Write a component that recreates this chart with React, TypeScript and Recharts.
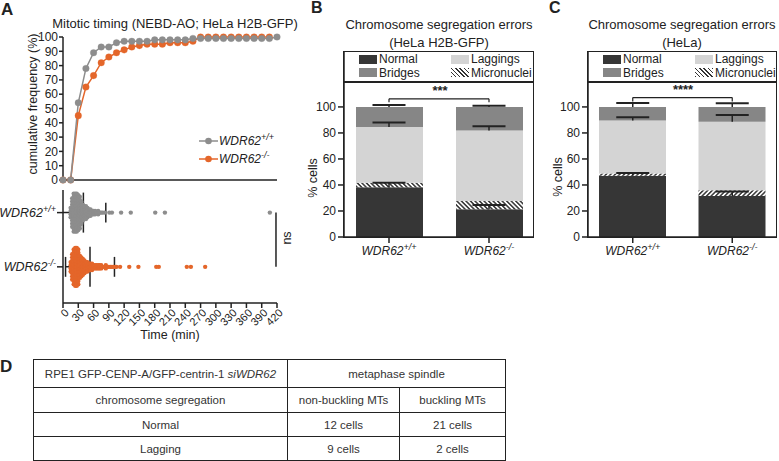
import React from "react";
import {
  LineChart,
  Line,
  XAxis,
  YAxis,
  ScatterChart,
  Scatter,
  ComposedChart,
  Bar,
  ReferenceLine,
} from "recharts";

const FONT = '"Liberation Sans", Arial, Helvetica, sans-serif';
const INK = "#222";
const GRAY = "#8d8d8d";
const ORANGE = "#e4662a";
const SEG = { normal: "#363636", bridges: "#868686", laggings: "#d4d4d4" };

const GENOTYPES = ["WDR62+/+", "WDR62-/-"];

// ---- A (top): cumulative frequency, NEBD-AO
const TIME_BINS = [0, 15, 30, 45, 60, 75, 90, 105, 120, 135, 150, 165, 180, 195, 210, 225, 240, 255, 270, 285, 300, 315, 330, 345, 360, 375, 390, 405, 420];
const WT_CUM = [0, 0, 54, 78, 89, 93, 93, 96, 97, 97, 97, 97, 98, 98, 98, 98, 98, 99, 99, 99, 99, 99, 99, 99, 99, 99, 99, 99, 100];
const KO_CUM = [0, 0, 45, 65, 73, 82, 86, 89, 91, 93, 94, 95, 95, 95, 96, 96, 96, 97, 100, 100, 100, 100, 100, 100, 100, 100, 100, 100, null];

// ---- A (bottom): individual cells, binned every ~3 min (count of dots per bin)
const WT_SWARM_T = [15, 18, 21, 24, 27, 30, 33, 36, 39, 42, 45, 48, 51, 54, 57, 60, 63, 66, 69, 72, 75, 78, 82, 91, 96, 114, 133, 181, 200, 406];
const WT_SWARM_N = [4, 10, 13, 13, 13, 12, 11, 8, 6, 5, 5, 4, 3, 3, 2, 2, 2, 1, 2, 1, 1, 1, 1, 1, 1, 1, 1, 1, 1, 1];
const KO_SWARM_T = [15, 18, 21, 24, 27, 30, 33, 36, 39, 42, 45, 48, 51, 54, 57, 60, 63, 66, 69, 72, 75, 78, 81, 84, 87, 90, 93, 96, 99, 102, 105, 112, 130, 148, 183, 188, 243, 251, 279];
const KO_SWARM_N = [4, 9, 12, 13, 13, 12, 8, 7, 6, 5, 4, 4, 3, 3, 3, 2, 2, 2, 2, 2, 2, 1, 1, 2, 1, 1, 1, 1, 1, 1, 1, 1, 1, 1, 1, 1, 1, 1, 1];
const SWARM_MEAN = [40, 53];
const SWARM_SD = [44, 48];
const TIME_TICKS = [0, 30, 60, 90, 120, 150, 180, 210, 240, 270, 300, 330, 360, 390, 420];

// ---- B: HeLa H2B-GFP (% cells)
const B_NORMAL = [38.2, 21.3];
const B_MICRO = [3.6, 6.4];
const B_LAG = [42.8, 54.1];
const B_BRIDGE = [15.4, 18.2];
const B_SD = { normal: [3.6, 3.3], lag: [3.4, 3.3], bridge: [1.5, 1.0] };

// ---- C: HeLa (% cells)
const C_NORMAL = [47, 31.5];
const C_MICRO = [1.8, 4.4];
const C_LAG = [40.7, 52.8];
const C_BRIDGE = [10.5, 11.3];
const C_SD = { normal: [2.3, 3.4], lag: [2.6, 5.1], bridge: [3, 2.8] };

// ---- D: table
const D_HEAD = ["RPE1 GFP-CENP-A/GFP-centrin-1 ", "siWDR62", "metaphase spindle"];
const D_COLS = ["chromosome segregation", "non-buckling MTs", "buckling MTs"];
const D_ROWS = [
  ["Normal", "12 cells", "21 cells"],
  ["Lagging", "9 cells", "2 cells"],
];

// layout constants (not data)
const ROW_WT = 80;
const ROW_KO = 32;
const DOT_STEP = 2.8;
const Y_MAX_BAR = 143;

const axisStyle = { stroke: INK, strokeWidth: 1.5 };

function swarm(times: number[], counts: number[], row: number) {
  const pts: { t: number; y: number }[] = [];
  times.forEach((t, i) => {
    const n = counts[i];
    for (let k = 0; k < n; k++) pts.push({ t, y: row + (k - (n - 1) / 2) * DOT_STEP });
  });
  return pts;
}

const TimeTick = (p: any) => (
  <text
    x={p.x + 3}
    y={p.y}
    dy={5}
    textAnchor="end"
    transform={`rotate(-45 ${p.x + 3} ${p.y})`}
    fontFamily={FONT}
    fontSize={11}
    fill={INK}
  >
    {p.payload.value}
  </text>
);

const GenoYTick = (p: any) => {
  const label = p.payload.value === ROW_WT ? GENOTYPES[0] : GENOTYPES[1];
  return (
    <text x={p.x} y={p.y} dy={4} textAnchor="end" fontFamily={FONT} fontSize={12.5} fontStyle="italic" fill={INK}>
      {label.slice(0, 5)}
      <tspan dy={-5} fontSize={9}>{label.slice(5)}</tspan>
    </text>
  );
};

const GenoXTick = (p: any) => {
  const label = String(p.payload.value);
  return (
    <text x={p.x} y={p.y} dy={10} textAnchor="middle" fontFamily={FONT} fontSize={12} fontStyle="italic" fill={INK}>
      {label.slice(0, 5)}
      <tspan dy={-5} fontSize={9}>{label.slice(5)}</tspan>
    </text>
  );
};

const ErrStem = (p: any) => {
  const top = Math.min(p.y1, p.y2);
  const bot = Math.max(p.y1, p.y2);
  return (
    <g>
      <line x1={p.x1} y1={top} x2={p.x1} y2={bot} stroke={INK} strokeWidth={1.5} />
      <line x1={p.x1 - 16.5} y1={top} x2={p.x1 + 16.5} y2={top} stroke={INK} strokeWidth={2} />
    </g>
  );
};

function Txt({ cx, cy, w = 300, h = 16, size = 12, rotate = 0, bold = false, children }: any) {
  return (
    <div
      style={{
        position: "absolute",
        left: cx - w / 2,
        top: cy - h / 2,
        width: w,
        height: h,
        lineHeight: `${h}px`,
        fontSize: size,
        fontWeight: bold ? "bold" : "normal",
        textAlign: "center",
        whiteSpace: "nowrap",
        transform: rotate ? `rotate(${rotate}deg)` : undefined,
      }}
    >
      {children}
    </div>
  );
}

function Sup({ children }: any) {
  return <span style={{ fontSize: 9, position: "relative", top: -5 }}>{children}</span>;
}

function LegendMark({ left, top, color }: any) {
  return (
    <svg style={{ position: "absolute", left, top }} width={19} height={14}>
      <line x1={0} y1={7} x2={19} y2={7} stroke={color} strokeWidth={1.5} />
      <circle cx={9.5} cy={7} r={3.3} fill={color} />
    </svg>
  );
}

function SegPanel({ left, width, right, normal, micro, lag, bridge, sd, bracket, hatchId, hatchAngle }: any) {
  const rows = GENOTYPES.map((g, i) => ({ g, normal: normal[i], micro: micro[i], lag: lag[i], bridge: bridge[i] }));
  const errs: any[] = [];
  GENOTYPES.forEach((g, i) => {
    const nTop = normal[i];
    const lTop = normal[i] + micro[i] + lag[i];
    const bTop = lTop + bridge[i];
    [
      [nTop, sd.normal[i]],
      [lTop, sd.lag[i]],
      [bTop, sd.bridge[i]],
    ].forEach(([base, s], k) =>
      errs.push(
        <ReferenceLine
          key={`e${i}${k}`}
          segment={[{ x: g, y: base }, { x: g, y: base + s }]}
          shape={ErrStem}
          ifOverflow="visible"
        />
      )
    );
  });
  const [low, high] = bracket;
  const br = [
    [{ x: GENOTYPES[0], y: low }, { x: GENOTYPES[0], y: high }],
    [{ x: GENOTYPES[0], y: high }, { x: GENOTYPES[1], y: high }],
    [{ x: GENOTYPES[1], y: high }, { x: GENOTYPES[1], y: low }],
  ].map((s, k) => (
    <ReferenceLine key={`b${k}`} segment={s} stroke={INK} strokeWidth={1.2} ifOverflow="visible" />
  ));
  return (
    <div style={{ position: "absolute", left, top: 0 }}>
      <ComposedChart width={width} height={270} data={rows} margin={{ top: 51, right, bottom: 5, left: 10 }}>
        <defs>
          <pattern id={hatchId} patternUnits="userSpaceOnUse" width={3.2} height={3.2} patternTransform={`rotate(${hatchAngle})`}>
            <rect width={3.2} height={3.2} fill="#fff" />
            <line x1={0.8} y1={0} x2={0.8} y2={3.2} stroke="#333" strokeWidth={1.5} />
          </pattern>
        </defs>
        <XAxis
          dataKey="g"
          type="category"
          padding={{ left: -5, right: -6 }}
          tick={GenoXTick}
          tickSize={6}
          tickLine={axisStyle}
          axisLine={axisStyle}
          height={28}
        />
        <YAxis
          type="number"
          domain={[0, Y_MAX_BAR]}
          ticks={[0, 20, 40, 60, 80, 100]}
          width={34}
          tickSize={6}
          tickMargin={2}
          tick={{ fontSize: 12, fill: INK, fontFamily: FONT }}
          tickLine={axisStyle}
          axisLine={axisStyle}
        />
        <Bar dataKey="normal" stackId="s" fill={SEG.normal} barSize={67} isAnimationActive={false} />
        <Bar dataKey="micro" stackId="s" fill={`url(#${hatchId})`} barSize={67} isAnimationActive={false} />
        <Bar dataKey="lag" stackId="s" fill={SEG.laggings} barSize={67} isAnimationActive={false} />
        <Bar dataKey="bridge" stackId="s" fill={SEG.bridges} barSize={67} isAnimationActive={false} />
        {errs}
        {br}
      </ComposedChart>
    </div>
  );
}

function SegLegend({ frameLeft, frameRight }: any) {
  const sw = (l: number, t: number, bg: string) => (
    <div style={{ position: "absolute", left: l, top: t, width: 18, height: 9, background: bg }} />
  );
  const hatch = "repeating-linear-gradient(45deg, #333 0 1px, #fff 1px 3px)";
  const txt = (l: number, t: number, s: string) => (
    <div style={{ position: "absolute", left: l, top: t, fontSize: 12, lineHeight: "14px", whiteSpace: "nowrap" }}>{s}</div>
  );
  const fl = frameLeft;
  return (
    <>
      <div
        style={{
          position: "absolute",
          left: fl - 0.75,
          top: 50.5,
          width: frameRight - fl + 1.5,
          height: 187,
          border: `1.5px solid ${INK}`,
          boxSizing: "border-box",
        }}
      />
      <div style={{ position: "absolute", left: fl, top: 81, width: frameRight - fl, height: 1.5, background: INK }} />
      {sw(fl + 15, 55, SEG.normal)}
      {txt(fl + 35, 52, "Normal")}
      {sw(fl + 15, 68, SEG.bridges)}
      {txt(fl + 35, 65.5, "Bridges")}
      {sw(fl + 107, 55, SEG.laggings)}
      {txt(fl + 127, 52, "Laggings")}
      {sw(fl + 107, 68, hatch)}
      {txt(fl + 127, 65.5, "Micronuclei")}
    </>
  );
}

export default function App() {
  const cumData = TIME_BINS.map((t, i) => ({ t, wt: WT_CUM[i], ko: KO_CUM[i] }));
  const wtPts = swarm(WT_SWARM_T, WT_SWARM_N, ROW_WT);
  const koPts = swarm(KO_SWARM_T, KO_SWARM_N, ROW_KO);

  const meanLines: any[] = [];
  [ROW_WT, ROW_KO].forEach((row, i) => {
    const m = SWARM_MEAN[i];
    const lo = m - SWARM_SD[i];
    const hi = m + SWARM_SD[i];
    const segs: any[] = [
      [{ x: Math.max(0, lo), y: row }, { x: hi, y: row }],
      [{ x: m, y: row - 17.7 }, { x: m, y: row + 17.7 }],
      [{ x: hi, y: row - 8.8 }, { x: hi, y: row + 8.8 }],
    ];
    if (lo > 0) segs.push([{ x: lo, y: row - 8.8 }, { x: lo, y: row + 8.8 }]);
    segs.forEach((s, k) =>
      meanLines.push(
        <ReferenceLine key={`m${i}${k}`} segment={s} stroke={INK} strokeWidth={1.5} ifOverflow="visible" />
      )
    );
  });

  return (
    <div
      style={{
        position: "absolute",
        left: 0,
        top: 0,
        width: 779,
        height: 461,
        background: "#fff",
        fontFamily: FONT,
        color: INK,
        overflow: "hidden",
      }}
    >
      {/* panel letters */}
      <div style={{ position: "absolute", left: 1, top: 0, fontSize: 17, fontWeight: "bold" }}>A</div>
      <div style={{ position: "absolute", left: 311, top: -1, fontSize: 16, fontWeight: "bold" }}>B</div>
      <div style={{ position: "absolute", left: 549, top: -1, fontSize: 16, fontWeight: "bold" }}>C</div>
      <div style={{ position: "absolute", left: 0, top: 357, fontSize: 17, fontWeight: "bold" }}>D</div>

      {/* A: cumulative frequency */}
      <Txt cx={175} cy={24} size={13}>Mitotic timing (NEBD-AO; HeLa H2B-GFP)</Txt>
      <Txt cx={33} cy={104} w={170} size={12.5} rotate={-90}>cumulative frequency (%)</Txt>
      <div style={{ position: "absolute", left: 0, top: 0 }}>
        <LineChart width={300} height={200} data={cumData} margin={{ top: 37, right: 23, bottom: 19, left: 23 }}>
          <XAxis dataKey="t" type="number" domain={[0, 420]} ticks={[0]} tick={false} tickLine={false} height={1} axisLine={axisStyle} />
          <YAxis
            type="number"
            domain={[0, 100]}
            ticks={[0, 10, 20, 30, 40, 50, 60, 70, 80, 90, 100]}
            interval={0}
            width={40}
            tickSize={4}
            tickMargin={1}
            tick={{ fontSize: 12, fill: INK, fontFamily: FONT }}
            tickLine={axisStyle}
            axisLine={axisStyle}
          />
          <Line dataKey="ko" stroke={ORANGE} strokeWidth={1.5} dot={{ r: 3.3, fill: ORANGE, stroke: ORANGE, strokeWidth: 0.3 }} isAnimationActive={false} />
          <Line dataKey="wt" stroke={GRAY} strokeWidth={1.5} dot={{ r: 3.3, fill: GRAY, stroke: GRAY, strokeWidth: 0.3 }} isAnimationActive={false} />
        </LineChart>
      </div>
      <LegendMark left={199} top={134} color={GRAY} />
      <div style={{ position: "absolute", left: 219, top: 133, fontSize: 12, lineHeight: "16px", fontStyle: "italic" }}>
        WDR62<Sup>+/+</Sup>
      </div>
      <LegendMark left={199} top={152} color={ORANGE} />
      <div style={{ position: "absolute", left: 219, top: 151, fontSize: 12, lineHeight: "16px", fontStyle: "italic" }}>
        WDR62<Sup>-/-</Sup>
      </div>

      {/* A: single cells */}
      <div style={{ position: "absolute", left: 0, top: 180 }}>
        <ScatterChart width={300} height={170} margin={{ top: 10, right: 23, bottom: 17, left: 23 }}>
          <XAxis
            dataKey="t"
            type="number"
            domain={[0, 420]}
            ticks={TIME_TICKS}
            interval={0}
            tick={TimeTick}
            tickSize={5}
            tickLine={axisStyle}
            axisLine={axisStyle}
            height={30}
          />
          <YAxis
            dataKey="y"
            type="number"
            domain={[0, 100]}
            ticks={[ROW_KO, ROW_WT]}
            interval={0}
            width={40}
            tickSize={6}
            tickMargin={1}
            tick={GenoYTick}
            tickLine={axisStyle}
            axisLine={axisStyle}
          />
          <Scatter data={wtPts} fill={GRAY} isAnimationActive={false} shape={(p: any) => <circle cx={p.cx} cy={p.cy} r={2.2} fill={GRAY} />} />
          <Scatter data={koPts} fill={ORANGE} isAnimationActive={false} shape={(p: any) => <circle cx={p.cx} cy={p.cy} r={2.2} fill={ORANGE} />} />
          {meanLines}
          <ReferenceLine segment={[{ x: 418, y: ROW_WT }, { x: 418, y: ROW_KO }]} stroke={INK} strokeWidth={1.5} ifOverflow="visible" />
        </ScatterChart>
      </div>
      <Txt cx={287} cy={238} w={30} size={12.5} rotate={-90}>ns</Txt>
      <Txt cx={170} cy={335} size={12.5}>Time (min)</Txt>

      {/* B */}
      <div style={{ position: "absolute", left: 319, top: 16, width: 240, fontSize: 13, lineHeight: "18px", textAlign: "center" }}>
        Chromosome segregation errors
        <br />
        (HeLa H2B-GFP)
      </div>
      <SegPanel
        left={300}
        width={240}
        right={7}
        normal={B_NORMAL}
        micro={B_MICRO}
        lag={B_LAG}
        bridge={B_BRIDGE}
        sd={B_SD}
        bracket={[103.6, 106.2]}
        hatchId="hatchB"
        hatchAngle={-45}
      />
      <SegLegend frameLeft={344} frameRight={533} />
      <Txt cx={313} cy={178} w={80} size={12.5} rotate={-90}>% cells</Txt>
      <Txt cx={440} cy={91} w={60} size={13} bold>***</Txt>

      {/* C */}
      <div style={{ position: "absolute", left: 562, top: 16, width: 240, fontSize: 13, lineHeight: "18px", textAlign: "center" }}>
        Chromosome segregation errors
        <br />
        (HeLa)
      </div>
      <SegPanel
        left={544}
        width={235}
        right={3}
        normal={C_NORMAL}
        micro={C_MICRO}
        lag={C_LAG}
        bridge={C_BRIDGE}
        sd={C_SD}
        bracket={[104.1, 107.2]}
        hatchId="hatchC"
        hatchAngle={45}
      />
      <SegLegend frameLeft={588} frameRight={776} />
      <Txt cx={558} cy={177} w={80} size={12.5} rotate={-90}>% cells</Txt>
      <Txt cx={683} cy={90} w={60} size={13} bold>****</Txt>

      {/* D */}
      <table
        style={{
          position: "absolute",
          left: 33,
          top: 359,
          width: 472,
          borderCollapse: "collapse",
          fontSize: 11.5,
          color: "#333",
          border: `1.5px solid ${INK}`,
          tableLayout: "fixed",
        }}
      >
        <colgroup>
          <col style={{ width: 254 }} />
          <col style={{ width: 112 }} />
          <col style={{ width: 106 }} />
        </colgroup>
        <tbody>
          <tr style={{ height: 28 }}>
            <td style={tdStyle}>
              {D_HEAD[0]}
              <i>{D_HEAD[1]}</i>
            </td>
            <td style={tdStyle} colSpan={2}>{D_HEAD[2]}</td>
          </tr>
          <tr style={{ height: 25 }}>
            {D_COLS.map((c) => (
              <td key={c} style={tdStyle}>{c}</td>
            ))}
          </tr>
          {D_ROWS.map((r, i) => (
            <tr key={i} style={{ height: 24 }}>
              {r.map((c, j) => (
                <td key={j} style={tdStyle}>{c}</td>
              ))}
            </tr>
          ))}
        </tbody>
      </table>
    </div>
  );
}

const tdStyle: React.CSSProperties = {
  border: `1px solid ${INK}`,
  textAlign: "center",
  padding: 0,
  whiteSpace: "nowrap",
};
